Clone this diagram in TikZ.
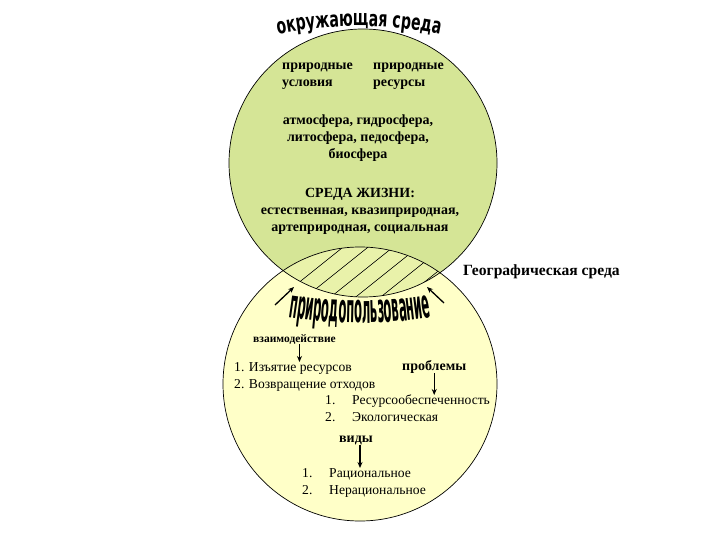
\documentclass[tikz,border=0pt]{standalone}
\usepackage{fontspec}
\setmainfont{Liberation Serif}
\newfontfamily\titlefont{DejaVu Sans}[FakeStretch=0.64]
\newfontfamily\artfont{DejaVu Sans}[FakeStretch=0.29]
\usepackage{xcolor}
\usepackage{tikz}
\usetikzlibrary{arrows.meta, positioning, decorations.text}

\definecolor{upgreen}{RGB}{213,229,150}
\definecolor{lowyellow}{RGB}{255,255,200}
\definecolor{lensgreen}{RGB}{233,242,170}
\newcommand{\numitem}[1]{\makebox[27pt][l]{#1}}

\begin{document}
\begin{tikzpicture}[
    x=1pt, y=1pt,
    txt/.style={font=\fontsize{13.6}{17}\selectfont, inner sep=0pt},
    bold txt/.style={font=\fontsize{14}{17}\selectfont\bfseries, inner sep=0pt},
    arr/.style={-{Stealth[length=6pt, width=5pt]}, line width=1.3pt},
    hatch/.style={line width=0.6pt},
    rim/.style={draw=black, line width=0.7pt}
]
\useasboundingbox (0,0) rectangle (720,-540);

% the two spheres
\fill[upgreen] (363,-163) circle[radius=134];
\fill[lowyellow] (360,-384) circle[radius=137];
\begin{scope}
  \clip (363,-163) circle[radius=134];
  \clip (360,-384) circle[radius=137];
  \fill[lensgreen] (200,-200) rectangle (520,-320);
  \foreach \hx in {277,302,327,352,377,402}
    \draw[hatch] (\hx,-300) -- ++(100,80);
\end{scope}
\draw[rim] (363,-163) circle[radius=134];
\draw[rim] (360,-384) circle[radius=137];

% curved titles
\path[decorate, decoration={text along path, text align=center,
    text={|\titlefont\bfseries\fontsize{22}{22}\selectfont|окружающая среда}}]
  ([shift={(359,-440)}]102:414) arc[start angle=102, end angle=78, radius=414];
\path[decorate, decoration={text along path, text align=center,
    text={|\artfont\bfseries\fontsize{40}{40}\selectfont|природопользование}}]
  ([shift={(360,142)}]261:465) arc[start angle=261, end angle=279, radius=465];

% upper sphere
\node[bold txt, anchor=north west, align=left] (cond) at (282,-63) {природные\\условия};
\node[bold txt, anchor=north west, align=left] (res) at (373,-63) {природные\\ресурсы};
\node[bold txt, anchor=north, align=center] (spheres) at (358,-115) {атмосфера, гидросфера,\\литосфера, педосфера,\\биосфера};
\node[bold txt, anchor=north, align=center] (habitat) at (360,-188) {СРЕДА ЖИЗНИ:\\естественная, квазиприродная,\\артеприродная, социальная};

\node[font=\fontsize{15.6}{18}\selectfont\bfseries, inner sep=0pt, anchor=base west] (geo) at (463,-275) {Географическая среда};

% lower sphere
\node[font=\fontsize{11.5}{14}\selectfont\bfseries, inner sep=0pt, anchor=base west] (interact) at (253,-342) {взаимодействие};
\node[txt, anchor=north west, align=left] (withdraw) at (234,-362) {1. Изъятие ресурсов\\2. Возвращение отходов};
\node[bold txt, anchor=base west] (problems) at (402,-370) {проблемы};
\node[txt, anchor=north west, align=left] (plist) at (325,-395) {\numitem{1.}Ресурсообеспеченность\\\numitem{2.}Экологическая};
\node[bold txt, anchor=base] (kinds) at (356,-442) {виды};
\node[txt, anchor=north west, align=left] (klist) at (302,-468) {\numitem{1.}Рациональное\\\numitem{2.}Нерациональное};

\coordinate (footl) at (275,-305);
\coordinate (lensl) at (294,-287);
\coordinate (footr) at (444,-303);
\coordinate (lensr) at (427,-287);

\draw[arr] (footl) -- (lensl);
\draw[arr] (footr) -- (lensr);
\draw[arr] ([xshift=5pt]interact.south) -- ([xshift=5pt]interact.south |- withdraw.north);
\draw[arr] (problems.south) -- (problems.south |- plist.north);
\draw[arr] ([xshift=4pt]kinds.south) -- ([xshift=4pt]kinds.south |- klist.north);
\end{tikzpicture}
\end{document}
